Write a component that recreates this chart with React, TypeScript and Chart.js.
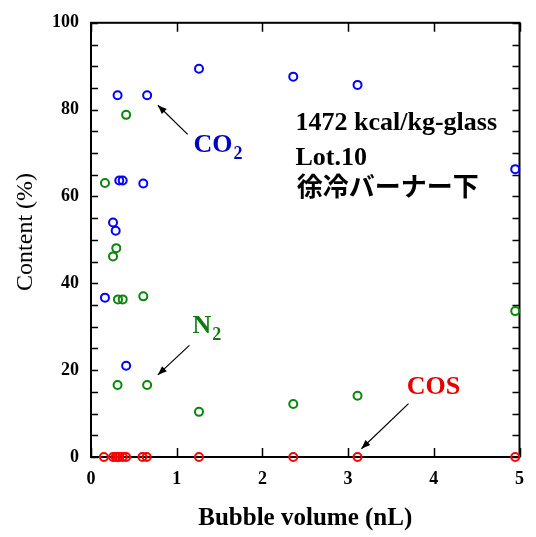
import React, { useEffect, useRef } from 'react';
import { Chart, registerables } from 'chart.js';

Chart.register(...registerables);

const W = 536;
const H = 537;
const SERIF = "'Liberation Serif', 'Times New Roman', serif";
const CJK = "'Noto Sans CJK JP', 'Noto Sans', sans-serif";

// Bubble volume (nL) and content (%) for each gas
const volCO2 = [0.163, 0.257, 0.288, 0.31, 0.33, 0.37, 0.41, 0.61, 0.655, 1.26, 2.36, 3.11, 4.95];
const co2 = [36.7, 54.0, 52.1, 83.3, 63.7, 63.7, 21.0, 63.0, 83.3, 89.4, 87.6, 85.7, 66.3];

const volN2 = [0.163, 0.257, 0.295, 0.31, 0.315, 0.37, 0.41, 0.61, 0.655, 1.26, 2.36, 3.11, 4.95];
const n2 = [63.1, 46.2, 48.1, 16.6, 36.3, 36.3, 78.8, 37.0, 16.6, 10.4, 12.2, 14.1, 33.6];

const volCOS = [0.15, 0.257, 0.288, 0.31, 0.33, 0.37, 0.41, 0.6, 0.65, 1.26, 2.36, 3.11, 4.95];
const cos = [0, 0, 0, 0, 0, 0, 0, 0, 0, 0, 0, 0, 0];

const xTickValues = [0, 1, 2, 3, 4, 5];
const yTickLabels = [0, 20, 40, 60, 80, 100];

const infoLines = ['1472 kcal/kg-glass', 'Lot.10', '徐冷バーナー下'];
const yTitle = 'Content (%)';

const BLUE = '#0000ff';
const GREEN = '#0a860a';
const RED = '#ff0000';

const pts = (xs: number[], ys: number[]) => xs.map((x, i) => ({ x, y: ys[i] }));

const framePlugin = {
  id: 'frame',
  beforeDatasetsDraw(chart: any) {
    const { ctx, chartArea } = chart;
    const { left, right, top, bottom } = chartArea;
    const xs = chart.scales.x;
    const ys = chart.scales.y;
    ctx.save();
    ctx.strokeStyle = '#000';
    ctx.lineWidth = 1.5;
    ctx.beginPath();
    ys.ticks.forEach((t: any) => {
      const py = Math.round(ys.getPixelForValue(t.value)) + 0.5;
      ctx.moveTo(left, py);
      ctx.lineTo(left + 7, py);
      ctx.moveTo(right, py);
      ctx.lineTo(right - 7, py);
    });
    xs.ticks.forEach((t: any) => {
      const px = Math.round(xs.getPixelForValue(t.value)) + 0.5;
      ctx.moveTo(px, bottom);
      ctx.lineTo(px, bottom - 9);
      ctx.moveTo(px, top);
      ctx.lineTo(px, top + 9);
    });
    ctx.stroke();
    ctx.lineWidth = 2;
    ctx.strokeRect(left, top, right - left, bottom - top);

    // y axis title
    ctx.fillStyle = '#000';
    ctx.font = `24px ${SERIF}`;
    ctx.textAlign = 'center';
    ctx.textBaseline = 'middle';
    ctx.translate(26, (top + bottom) / 2 - 8);
    ctx.rotate(-Math.PI / 2);
    ctx.fillText(yTitle, 0, 0);
    ctx.restore();
  },
};

function arrow(ctx: CanvasRenderingContext2D, x1: number, y1: number, x2: number, y2: number) {
  ctx.save();
  ctx.strokeStyle = '#000';
  ctx.fillStyle = '#000';
  ctx.lineWidth = 1.2;
  ctx.beginPath();
  ctx.moveTo(x1, y1);
  ctx.lineTo(x2, y2);
  ctx.stroke();
  const a = Math.atan2(y2 - y1, x2 - x1);
  const L = 9;
  const Wd = 3.5;
  ctx.beginPath();
  ctx.moveTo(x2, y2);
  ctx.lineTo(x2 - L * Math.cos(a) + Wd * Math.sin(a), y2 - L * Math.sin(a) - Wd * Math.cos(a));
  ctx.lineTo(x2 - L * Math.cos(a) - Wd * Math.sin(a), y2 - L * Math.sin(a) + Wd * Math.cos(a));
  ctx.closePath();
  ctx.fill();
  ctx.restore();
}

const labelPlugin = {
  id: 'labels',
  afterDraw(chart: any) {
    const { ctx } = chart;
    const xs = chart.scales.x;
    const ys = chart.scales.y;
    const X = (v: number) => xs.getPixelForValue(v);
    const Y = (v: number) => ys.getPixelForValue(v);
    ctx.save();
    ctx.textBaseline = 'alphabetic';
    ctx.textAlign = 'left';

    // info text
    ctx.fillStyle = '#000';
    ctx.font = `bold 26px ${SERIF}`;
    ctx.fillText(infoLines[0], X(2.386), Y(75.3));
    ctx.fillText(infoLines[1], X(2.386), Y(67.2));
    ctx.font = `bold 26px ${CJK}`;
    ctx.fillText(infoLines[2], X(2.40), Y(60.1));

    const gasLabel = (main: string, sub: string, color: string, x: number, y: number) => {
      ctx.fillStyle = color;
      ctx.font = `bold 26px ${SERIF}`;
      const px = X(x);
      const py = Y(y);
      ctx.fillText(main, px, py);
      if (sub) {
        const w = ctx.measureText(main).width;
        ctx.font = `bold 18px ${SERIF}`;
        ctx.fillText(sub, px + w + 1, py + 7);
      }
    };
    gasLabel('CO', '2', '#0000c8', 1.197, 70.2);
    gasLabel('N', '2', '#107a10', 1.185, 28.5);
    gasLabel('COS', '', '#e80000', 3.685, 14.5);

    arrow(ctx, X(1.128), Y(74.3), X(0.78), Y(81.0));
    arrow(ctx, X(1.148), Y(25.7), X(0.78), Y(18.9));
    arrow(ctx, X(3.705), Y(12.3), X(3.155), Y(1.9));
    ctx.restore();
  },
};

export default function App() {
  const ref = useRef<HTMLCanvasElement>(null);
  useEffect(() => {
    document.body.style.margin = '0';
    const ds = (label: string, xs: number[], ys: number[], color: string) => ({
      label,
      data: pts(xs, ys),
      borderColor: color,
      backgroundColor: 'rgba(0,0,0,0)',
      pointRadius: 4,
      pointHoverRadius: 4,
      pointBorderWidth: 2,
      showLine: false,
      clip: false as any,
    });
    const chart = new Chart(ref.current!, {
      type: 'scatter',
      data: {
        datasets: [
          ds('CO2', volCO2, co2, BLUE),
          ds('N2', volN2, n2, GREEN),
          ds('COS', volCOS, cos, RED),
        ],
      },
      options: {
        responsive: false,
        devicePixelRatio: 1,
        animation: false,
        events: [],
        layout: { padding: { top: 18, right: 5, left: 0, bottom: 0 } },
        plugins: { legend: { display: false }, tooltip: { enabled: false } },
        scales: {
          x: {
            type: 'linear',
            min: 0,
            max: 5,
            afterBuildTicks: (s: any) => {
              s.ticks = xTickValues.map((v) => ({ value: v }));
            },
            ticks: {
              color: '#000',
              padding: 12,
              font: { family: SERIF, size: 18, weight: 'bold' },
              callback: (v: any) => String(v),
            },
            grid: { display: false, drawTicks: false },
            border: { display: false },
            title: {
              display: true,
              text: 'Bubble volume (nL)',
              color: '#000',
              font: { family: SERIF, size: 25, weight: 'bold' },
              padding: { top: 0, bottom: 3 },
            },
            afterFit: (s: any) => {
              s.height = 80;
            },
          },
          y: {
            type: 'linear',
            min: 0,
            max: 100,
            ticks: {
              stepSize: 5,
              autoSkip: false,
              color: '#000',
              padding: 12,
              font: { family: SERIF, size: 18, weight: 'bold' },
              callback: (v: any) => (yTickLabels.includes(Number(v)) ? String(v) : ''),
            },
            grid: { display: false, drawTicks: false },
            border: { display: false },
            title: { display: false },
            afterFit: (s: any) => {
              s.width = 91;
            },
          },
        },
      },
      plugins: [framePlugin, labelPlugin],
    });
    return () => chart.destroy();
  }, []);
  return (
    <div style={{ width: W, height: H, position: 'relative', background: '#fff' }}>
      <canvas ref={ref} width={W} height={H} style={{ display: 'block' }} />
    </div>
  );
}
